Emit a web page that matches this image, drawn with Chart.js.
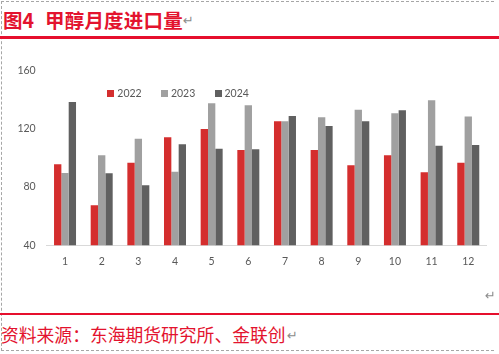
<!DOCTYPE html>
<html>
<head>
<meta charset="utf-8">
<script src="https://cdn.jsdelivr.net/npm/chart.js@4/dist/chart.umd.min.js"></script>
<style>
  html, body { margin:0; padding:0; background:#fff; }
  body { width:499px; height:354px; position:relative; overflow:hidden; font-family:"Noto Sans CJK SC", sans-serif; }
  .dash { position:absolute; left:1px; top:1px; width:493px; height:350px; border-top:1px dashed #a6a6a6; border-left:1px dashed #a6a6a6; border-bottom:1px dashed #a6a6a6; box-sizing:border-box; }
  .abs { position:absolute; white-space:nowrap; }
  .title { color:#E3132E; font-weight:bold; font-size:19.5px; line-height:1; }
  .src { color:#E3132E; font-size:17.8px; line-height:1; }
  .ret { color:#8c8c8c; font-family:"DejaVu Sans", sans-serif; font-size:13px; line-height:1; }
  .rule { position:absolute; left:0; width:499px; background:#E60F2D; }
  #wrap { position:absolute; left:0; top:50px; width:499px; height:250px; }
  .lg { position:absolute; font-family:Lato, sans-serif; font-size:10.5px; color:#595959; line-height:1; }
  .lg i { position:absolute; width:7px; height:7px; left:0; top:0; }
  .lg span { position:absolute; left:10px; top:-2px; }
</style>
</head>
<body>
<div class="dash"></div>
<div class="abs title" style="left:3px; top:10px;">图4</div>
<div class="abs title" style="left:45px; top:10px; letter-spacing:0.2px;">甲醇月度进口量</div>
<div class="abs ret" style="left:183px; top:14px;">↵</div>
<div class="rule" style="top:36px; height:3px;"></div>
<div id="wrap"><canvas id="c" width="499" height="250"></canvas></div>
<div id="legend"></div>
<div class="abs ret" style="left:485px; top:289px;">↵</div>
<div class="rule" style="top:313px; height:2px;"></div>
<div class="abs src" style="left:1px; top:326px;">资料来源：东海期货研究所、金联创</div>
<div class="abs ret" style="left:287px; top:329px;">↵</div>
<script>
const months = ['1','2','3','4','5','6','7','8','9','10','11','12'];
const seriesNames = ['2022','2023','2024'];
const v2022 = [95.6, 67.5, 96.7, 114.1, 119.8, 105.4, 125.1, 105.4, 94.9, 101.8, 90.1, 96.7];
const v2023 = [89.6, 101.8, 113.2, 90.5, 137.5, 136.1, 125.1, 127.9, 133.1, 130.6, 139.5, 128.5];
const v2024 = [138.4, 89.4, 81.2, 109.3, 106.3, 105.9, 128.7, 121.9, 125.1, 132.7, 108.4, 108.8];
const yTicks = [40, 80, 120, 160];
const colors = ['#D42E2E', '#A0A0A0', '#606060'];

const seriesValues = [v2022, v2023, v2024];
const datasets = seriesNames.map((n, i) => ({
  label: n,
  data: seriesValues[i],
  backgroundColor: colors[i],
  borderWidth: 0,
  categoryPercentage: 0.6,
  barPercentage: 1.0
}));

// HTML legend
const lg = document.getElementById('legend');
seriesNames.forEach((n, i) => {
  const d = document.createElement('div');
  d.className = 'lg';
  d.style.left = (107.3 + i * 53.6) + 'px';
  d.style.top = '90.3px';
  d.innerHTML = '<i style="background:' + colors[i] + '"></i><span>' + n + '</span>';
  lg.appendChild(d);
});

new Chart(document.getElementById('c'), {
  type: 'bar',
  data: { labels: months, datasets },
  options: {
    responsive: false,
    animation: false,
    layout: { padding: { left: 0, right: 12.4, top: 20.5, bottom: 0 } },
    plugins: { legend: { display: false }, tooltip: { enabled: false } },
    scales: {
      x: {
        grid: { display: false, drawTicks: false },
        border: { display: true, color: '#D9D9D9', width: 1 },
        ticks: { color: '#595959', font: { family: 'Lato', size: 10.5 }, padding: 10, maxRotation: 0 },
        afterFit: s => { s.height = 54.7; }
      },
      y: {
        min: 40, max: 160,
        afterBuildTicks: s => { s.ticks = yTicks.map(v => ({ value: v })); },
        grid: { display: false, drawTicks: false },
        border: { display: false },
        ticks: { color: '#595959', font: { family: 'Lato', size: 10.5 }, padding: 11 },
        afterFit: s => { s.width = 46.7; }
      }
    }
  }
});
</script>
</body>
</html>
